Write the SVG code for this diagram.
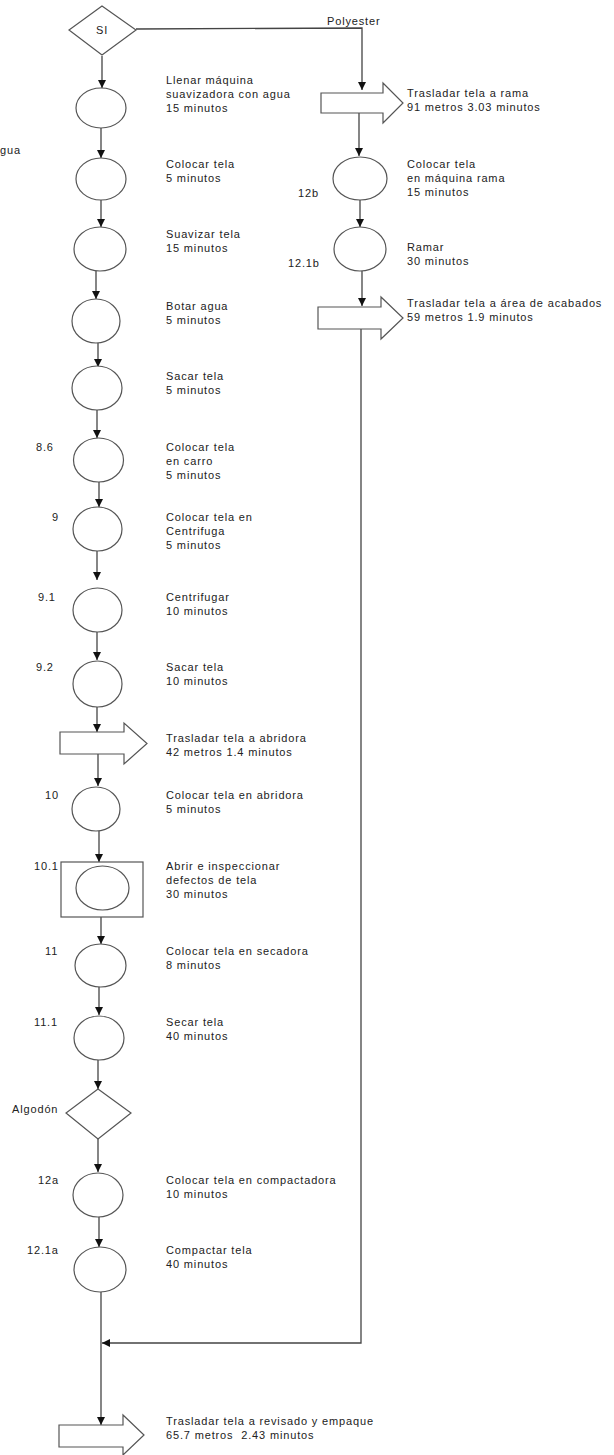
<svg xmlns="http://www.w3.org/2000/svg" width="614" height="1455" viewBox="0 0 614 1455">
  <style>
    .shape { fill: #ffffff; stroke: #555555; stroke-width: 1.2; }
    .line { fill: none; stroke: #444444; stroke-width: 1.3; }
    text { font-family: "Liberation Sans", Arial, sans-serif; font-size: 11px; letter-spacing: 0.85px; fill: #222222; }
    .c { text-anchor: middle; }
    .pre { white-space: pre; }
  </style>
  <defs>
    <marker id="head" markerUnits="userSpaceOnUse" markerWidth="8" markerHeight="8" refX="8" refY="4" orient="auto">
      <path d="M0,0 L8,4 L0,8 z" fill="#111111"/>
    </marker>
  </defs>

  <rect width="614" height="1455" fill="#ffffff"/>

  <!-- connectors -->
  <g id="connectors">
    <polyline class="line" points="136,29 362,28 362,90" marker-end="url(#head)"/>
    <line class="line" x1="102" y1="56" x2="102" y2="88" marker-end="url(#head)"/>
    <line class="line" x1="101" y1="128" x2="101" y2="158" marker-end="url(#head)"/>
    <line class="line" x1="101" y1="200" x2="101" y2="227" marker-end="url(#head)"/>
    <line class="line" x1="96" y1="271" x2="96" y2="299" marker-end="url(#head)"/>
    <line class="line" x1="98" y1="343" x2="98" y2="367" marker-end="url(#head)"/>
    <line class="line" x1="97" y1="410" x2="97" y2="438" marker-end="url(#head)"/>
    <line class="line" x1="99" y1="482" x2="99" y2="507" marker-end="url(#head)"/>
    <line class="line" x1="97" y1="551" x2="97" y2="580" marker-end="url(#head)"/>
    <line class="line" x1="97" y1="632" x2="97" y2="660" marker-end="url(#head)"/>
    <line class="line" x1="97" y1="707" x2="97" y2="732" marker-end="url(#head)"/>
    <line class="line" x1="98" y1="754" x2="98" y2="786" marker-end="url(#head)"/>
    <line class="line" x1="99" y1="831" x2="99" y2="862" marker-end="url(#head)"/>
    <line class="line" x1="101" y1="917" x2="101" y2="944" marker-end="url(#head)"/>
    <line class="line" x1="99" y1="987" x2="99" y2="1015" marker-end="url(#head)"/>
    <line class="line" x1="98" y1="1060" x2="98" y2="1089" marker-end="url(#head)"/>
    <line class="line" x1="98" y1="1139" x2="98" y2="1172" marker-end="url(#head)"/>
    <line class="line" x1="99" y1="1217" x2="99" y2="1247" marker-end="url(#head)"/>
    <line class="line" x1="101" y1="1292" x2="101" y2="1425" marker-end="url(#head)"/>
    <line class="line" x1="359" y1="113" x2="359" y2="156" marker-end="url(#head)"/>
    <line class="line" x1="360" y1="200" x2="360" y2="227" marker-end="url(#head)"/>
    <line class="line" x1="362" y1="271" x2="362" y2="306" marker-end="url(#head)"/>
    <polyline class="line" points="361,328 361,1343 102,1343" marker-end="url(#head)"/>
  </g>

  <!-- decision SI -->
  <g id="decision-si">
    <polygon class="shape" points="102,6 136,30 102,55 69,30"/>
    <text x="102" y="34" class="c">SI</text>
  </g>
  <text x="327" y="25">Polyester</text>
  <text x="0" y="154">gua</text>

  <!-- main column -->
  <g id="n1">
    <ellipse class="shape" cx="101" cy="108" rx="25" ry="20"/>
    <text x="166" y="84">Llenar máquina</text>
    <text x="166" y="98">suavizadora con agua</text>
    <text x="166" y="112">15 minutos</text>
  </g>
  <g id="n2">
    <ellipse class="shape" cx="101" cy="179" rx="25" ry="21"/>
    <text x="166" y="168">Colocar tela</text>
    <text x="166" y="182">5 minutos</text>
  </g>
  <g id="n3">
    <ellipse class="shape" cx="100" cy="249" rx="26" ry="22"/>
    <text x="166" y="238">Suavizar tela</text>
    <text x="166" y="252">15 minutos</text>
  </g>
  <g id="n4">
    <ellipse class="shape" cx="96" cy="321" rx="24" ry="22"/>
    <text x="166" y="310">Botar agua</text>
    <text x="166" y="324">5 minutos</text>
  </g>
  <g id="n5">
    <ellipse class="shape" cx="97" cy="388" rx="25" ry="22"/>
    <text x="166" y="380">Sacar tela</text>
    <text x="166" y="394">5 minutos</text>
  </g>
  <g id="n8-6">
    <ellipse class="shape" cx="98.5" cy="460" rx="25" ry="22"/>
    <text x="36" y="451">8.6</text>
    <text x="166" y="451">Colocar tela</text>
    <text x="166" y="465">en carro</text>
    <text x="166" y="479">5 minutos</text>
  </g>
  <g id="n9">
    <ellipse class="shape" cx="97.5" cy="529" rx="24.5" ry="22"/>
    <text x="52" y="521">9</text>
    <text x="166" y="521">Colocar tela en</text>
    <text x="166" y="535">Centrifuga</text>
    <text x="166" y="549">5 minutos</text>
  </g>
  <g id="n9-1">
    <ellipse class="shape" cx="97.5" cy="610" rx="24.5" ry="22"/>
    <text x="38" y="601">9.1</text>
    <text x="166" y="601">Centrifugar</text>
    <text x="166" y="615">10 minutos</text>
  </g>
  <g id="n9-2">
    <ellipse class="shape" cx="97.5" cy="684" rx="24.5" ry="23"/>
    <text x="36" y="671">9.2</text>
    <text x="166" y="671">Sacar tela</text>
    <text x="166" y="685">10 minutos</text>
  </g>
  <g id="t-abridora">
    <polygon class="shape" points="60,732 124,732 124,723 147,743.5 124,764 124,754 60,754"/>
    <text x="166" y="742">Trasladar tela a abridora</text>
    <text x="166" y="756">42 metros 1.4 minutos</text>
  </g>
  <g id="n10">
    <ellipse class="shape" cx="96" cy="809" rx="24" ry="22"/>
    <text x="45" y="799">10</text>
    <text x="166" y="799">Colocar tela en abridora</text>
    <text x="166" y="813">5 minutos</text>
  </g>
  <g id="n10-1">
    <rect class="shape" x="61" y="862" width="82" height="55"/>
    <ellipse class="shape" cx="102.5" cy="888" rx="26.5" ry="22"/>
    <text x="34" y="870">10.1</text>
    <text x="166" y="870">Abrir e inspeccionar</text>
    <text x="166" y="884">defectos de tela</text>
    <text x="166" y="898">30 minutos</text>
  </g>
  <g id="n11">
    <ellipse class="shape" cx="100.5" cy="965.5" rx="25.5" ry="21.5"/>
    <text x="45" y="955">11</text>
    <text x="166" y="955">Colocar tela en secadora</text>
    <text x="166" y="969">8 minutos</text>
  </g>
  <g id="n11-1">
    <ellipse class="shape" cx="99" cy="1038" rx="25" ry="22"/>
    <text x="34" y="1026">11.1</text>
    <text x="166" y="1026">Secar tela</text>
    <text x="166" y="1040">40 minutos</text>
  </g>
  <g id="decision-algodon">
    <polygon class="shape" points="98,1089 131,1113 98,1139 66,1113"/>
    <text x="12" y="1113">Algodón</text>
  </g>
  <g id="n12a">
    <ellipse class="shape" cx="98" cy="1195" rx="25" ry="22"/>
    <text x="38" y="1184">12a</text>
    <text x="166" y="1184">Colocar tela en compactadora</text>
    <text x="166" y="1198">10 minutos</text>
  </g>
  <g id="n12-1a">
    <ellipse class="shape" cx="100" cy="1269.5" rx="26" ry="22.5"/>
    <text x="27" y="1254">12.1a</text>
    <text x="166" y="1254">Compactar tela</text>
    <text x="166" y="1268">40 minutos</text>
  </g>
  <g id="t-empaque">
    <polygon class="shape" points="59,1425 123,1425 123,1415 144,1435 123,1455 123,1447 59,1447"/>
    <text x="166" y="1425">Trasladar tela a revisado y empaque</text>
    <text x="166" y="1439" class="pre">65.7 metros  2.43 minutos</text>
  </g>

  <!-- polyester column -->
  <g id="t-rama">
    <polygon class="shape" points="321,93 383,93 383,83 403,103 383,123 383,113 321,113"/>
    <text x="407" y="97">Trasladar tela a rama</text>
    <text x="407" y="111">91 metros 3.03 minutos</text>
  </g>
  <g id="n12b">
    <ellipse class="shape" cx="360" cy="178.5" rx="27" ry="21.5"/>
    <text x="298" y="197">12b</text>
    <text x="407" y="168">Colocar tela</text>
    <text x="407" y="182">en máquina rama</text>
    <text x="407" y="196">15 minutos</text>
  </g>
  <g id="n12-1b">
    <ellipse class="shape" cx="360" cy="249" rx="26" ry="22"/>
    <text x="288" y="267">12.1b</text>
    <text x="407" y="251">Ramar</text>
    <text x="407" y="265">30 minutos</text>
  </g>
  <g id="t-acabados">
    <polygon class="shape" points="318,307 381,307 381,297 403,318 381,339 381,329 318,329"/>
    <text x="407" y="307">Trasladar tela a área de acabados</text>
    <text x="407" y="321">59 metros 1.9 minutos</text>
  </g>
</svg>
